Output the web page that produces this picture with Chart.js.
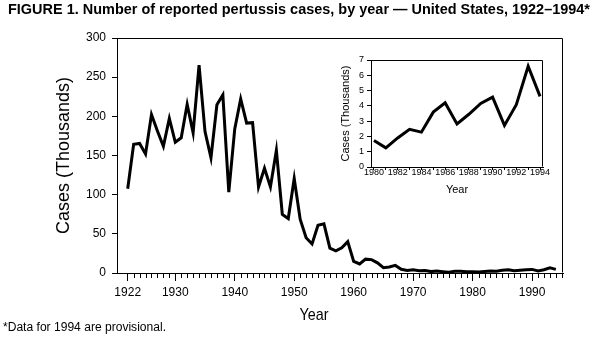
<!DOCTYPE html>
<html>
<head>
<meta charset="utf-8">
<script src="https://cdn.jsdelivr.net/npm/chart.js@4/dist/chart.umd.min.js"></script>
<style>
  html, body { margin: 0; padding: 0; background: #fff; }
  #wrap { position: relative; width: 609px; height: 357px; }
  #main { position: absolute; left: 0; top: 0; }
  #inset { position: absolute; left: 330px; top: 50px; }
</style>
</head>
<body>
<div id="wrap">
  <canvas id="main" width="609" height="357"></canvas>
  <canvas id="inset" width="220" height="150"></canvas>
</div>
<script>
// ---- data (thousands of cases) ----
const years = [1922,1923,1924,1925,1926,1927,1928,1929,1930,1931,1932,1933,1934,1935,1936,1937,1938,1939,1940,1941,1942,1943,1944,1945,1946,1947,1948,1949,1950,1951,1952,1953,1954,1955,1956,1957,1958,1959,1960,1961,1962,1963,1964,1965,1966,1967,1968,1969,1970,1971,1972,1973,1974,1975,1976,1977,1978,1979,1980,1981,1982,1983,1984,1985,1986,1987,1988,1989,1990,1991,1992,1993,1994];
const cases = [107.5,164.2,165.4,152.0,202.2,181.4,161.8,197.4,166.9,172.6,215.3,179.1,265.3,180.5,147.2,214.7,227.3,103.2,183.9,222.2,191.4,191.9,109.9,133.8,109.9,156.5,74.7,69.5,120.7,68.7,45.0,37.1,60.9,62.8,31.7,28.3,32.1,40.0,14.8,11.5,17.7,17.1,13.0,6.8,7.7,9.7,4.8,3.3,4.2,3.0,3.3,1.8,2.4,1.7,1.0,2.2,2.1,1.6,1.7,1.2,1.9,2.5,2.3,3.6,4.2,2.8,3.5,4.2,4.6,2.7,4.1,6.6,4.6];
const insetYears = [1980,1981,1982,1983,1984,1985,1986,1987,1988,1989,1990,1991,1992,1993,1994];
const insetCases = [1.73,1.25,1.90,2.46,2.28,3.59,4.20,2.82,3.45,4.16,4.57,2.72,4.08,6.59,4.62];
const yTicks = [0,50,100,150,200,250,300];
const xTickLabels = [1922,1930,1940,1950,1960,1970,1980,1990];
const insetYTicks = [0,1,2,3,4,5,6,7];
const insetXTickLabels = [1980,1982,1984,1986,1988,1990,1992,1994];

const titleText = 'FIGURE 1. Number of reported pertussis cases, by year \u2014 United States, 1922\u20131994*';
const footText = '*Data for 1994 are provisional.';

const FAMILY = '"Liberation Sans", Arial, Helvetica, sans-serif';
Chart.defaults.font.family = FAMILY;
Chart.defaults.color = '#000';

function fitText(ctx, text, x, y, font, width, align) {
  ctx.save();
  ctx.font = font;
  ctx.fillStyle = '#000';
  ctx.textBaseline = 'alphabetic';
  ctx.textAlign = align || 'left';
  const w = ctx.measureText(text).width;
  const sx = width ? width / w : 1;
  ctx.translate(x, y);
  ctx.scale(sx, 1);
  ctx.fillText(text, 0, 0);
  ctx.restore();
}

const boxPlugin = {
  id: 'boxPlugin',
  afterDraw(chart, args, opts) {
    const ctx = chart.ctx;
    const a = chart.chartArea;
    ctx.save();
    ctx.strokeStyle = '#000';
    ctx.lineWidth = 1;
    ctx.beginPath();
    const l = Math.round(a.left) + 0.5, t = Math.round(a.top) + 0.5;
    const r = Math.round(a.right) - 0.5, b = Math.round(a.bottom) - 0.5;
    ctx.moveTo(l, t); ctx.lineTo(r, t); ctx.lineTo(r, b);
    ctx.stroke();
    if (opts.minor) {
      const xs = chart.scales.x;
      ctx.beginPath();
      for (const yr of opts.minor) {
        const px = Math.round(xs.getPixelForValue(yr)) + 0.5;
        ctx.moveTo(px, a.bottom);
        ctx.lineTo(px, a.bottom + opts.minorLen);
      }
      ctx.stroke();
    }
    ctx.restore();
    if (opts.texts) {
      for (const t of opts.texts) fitText(ctx, t.text, t.x, t.y, t.font, t.width, t.align);
    }
  }
};

const minorYears = [];
for (let y = 1922; y <= 1995; y++) if (!xTickLabels.includes(y)) minorYears.push(y);

new Chart(document.getElementById('main'), {
  type: 'line',
  data: {
    datasets: [{
      data: years.map((y, i) => ({ x: y, y: cases[i] })),
      borderColor: '#000',
      borderWidth: 3,
      pointRadius: 0,
      tension: 0,
      fill: false
    }]
  },
  options: {
    responsive: false,
    animation: false,
    events: [],
    layout: { padding: { top: 38, right: 46, bottom: 0, left: 0 } },
    plugins: {
      legend: { display: false },
      tooltip: { enabled: false },
      boxPlugin: {
        minor: minorYears,
        minorLen: 5,
        texts: [
          { text: titleText, x: 8, y: 14, font: 'bold 15px ' + FAMILY, width: 582, align: 'left' },
          { text: 'Year', x: 314, y: 320, font: '17px ' + FAMILY, width: 29, align: 'center' },
          { text: footText, x: 3, y: 331, font: '12px ' + FAMILY, width: 163, align: 'left' }
        ]
      }
    },
    scales: {
      x: {
        type: 'linear',
        min: 1920.2,
        max: 1995.2,
        afterBuildTicks: s => { s.ticks = xTickLabels.map(v => ({ value: v })); },
        afterFit: s => { s.height = 84; },
        ticks: { autoSkip: false, maxRotation: 0, padding: 4, color: '#000', font: { size: 12 }, callback: v => String(v) },
        grid: { drawOnChartArea: false, drawTicks: true, tickLength: 8, tickColor: '#000', tickWidth: 1 },
        border: { display: true, color: '#000', width: 1 }
      },
      y: {
        min: 0,
        max: 300,
        afterBuildTicks: s => { s.ticks = yTicks.map(v => ({ value: v })); },
        afterFit: s => { s.width = 117; },
        ticks: { padding: 6, color: '#000', font: { size: 12 }, callback: v => String(v) },
        grid: { drawOnChartArea: false, drawTicks: true, tickLength: 5, tickColor: '#000' },
        border: { display: true, color: '#000', width: 1 },
        title: { display: true, text: 'Cases (Thousands)', color: '#000', font: { size: 18, lineHeight: 1 }, padding: { top: 55, bottom: 0 } }
      }
    }
  },
  plugins: [boxPlugin]
});

new Chart(document.getElementById('inset'), {
  type: 'line',
  data: {
    datasets: [{
      data: insetYears.map((y, i) => ({ x: y, y: insetCases[i] })),
      borderColor: '#000',
      borderWidth: 3,
      pointRadius: 0,
      tension: 0,
      fill: false
    }]
  },
  options: {
    responsive: false,
    animation: false,
    events: [],
    layout: { padding: { top: 10, right: 7, bottom: 0, left: 0 } },
    plugins: {
      legend: { display: false },
      tooltip: { enabled: false },
      boxPlugin: {}
    },
    scales: {
      x: {
        type: 'linear',
        min: 1979.75,
        max: 1994.25,
        afterBuildTicks: s => { s.ticks = insetYears.map(v => ({ value: v })); },
        afterFit: s => { s.height = 33; },
        ticks: { autoSkip: false, maxRotation: 0, padding: -1.5, color: '#000', font: { size: 9, lineHeight: 1 },
                 callback: v => insetXTickLabels.includes(v) ? String(v) : '' },
        grid: { drawOnChartArea: false, drawTicks: true, tickLength: 3, tickColor: '#000' },
        border: { display: true, color: '#000', width: 1 },
        title: { display: true, text: 'Year', color: '#000', font: { size: 11, lineHeight: 1 }, padding: { top: 0, bottom: 4.5 } }
      },
      y: {
        min: 0,
        max: 7,
        afterBuildTicks: s => { s.ticks = insetYTicks.map(v => ({ value: v })); },
        afterFit: s => { s.width = 41; },
        ticks: { padding: 3, color: '#000', font: { size: 9, lineHeight: 1 }, callback: v => String(v) },
        grid: { drawOnChartArea: false, drawTicks: true, tickLength: 4, tickColor: '#000' },
        border: { display: true, color: '#000', width: 1 },
        title: { display: true, text: 'Cases (Thousands)', color: '#000', font: { size: 11, lineHeight: 1 }, padding: { top: 10.5, bottom: 0 } }
      }
    }
  },
  plugins: [boxPlugin]
});
</script>
</body>
</html>
